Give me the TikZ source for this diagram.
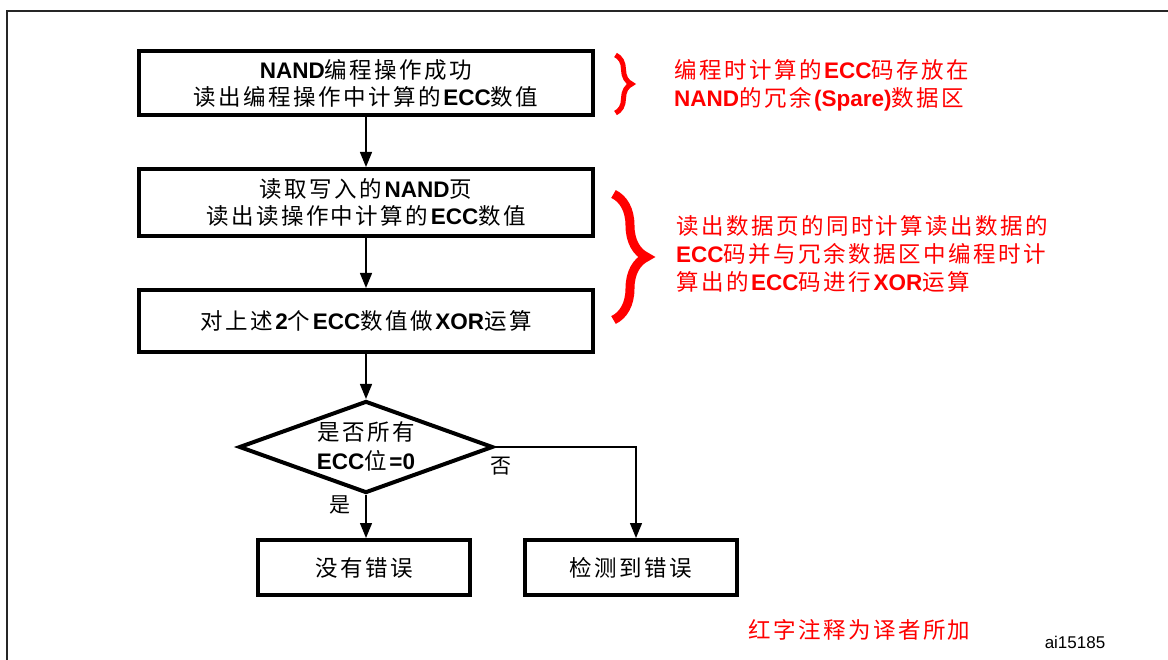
\documentclass[tikz,border=0pt]{standalone}
\usepackage{fontspec}
\setmainfont{Liberation Sans}
\newfontfamily\cjk[LetterSpace=11]{Noto Sans CJK SC}
\newcommand\zh[1]{{\cjk #1}}
\usetikzlibrary{arrows.meta,shapes.geometric,decorations.pathreplacing}
\tikzset{
  stepbox/.style={draw, line width=4pt, minimum width=454pt, inner sep=0pt, align=center,
    font=\fontsize{22.5}{27}\selectfont},
  endbox/.style={draw, line width=4pt, minimum width=212pt, minimum height=55pt, inner sep=0pt,
    font=\fontsize{22.5}{27}\selectfont},
  decision/.style={draw, diamond, line width=4pt, minimum width=254pt, minimum height=92pt, inner sep=0pt},
  arr/.style={line width=1.3pt, -{Triangle[length=15pt,width=12pt]}},
  note/.style={text=red, anchor=west, align=left, inner sep=0pt, font=\fontsize{22.5}{28}\selectfont},
  lbl/.style={inner sep=0pt, font=\fontsize{21}{24}\selectfont},
  bracestyle/.style={red, decorate, decoration={brace, amplitude=#1}},
}
\begin{document}
\begin{tikzpicture}[x=1pt,y=-1pt]
\useasboundingbox (0,0) rectangle (1168,660);
% outer frame (top and left edges)
\draw[line width=2pt, black!85] (7,660) -- (7,11) -- (1168,11);

\node[stepbox, minimum height=64pt] (b1) at (366,83)
  {\textbf{NAND}\zh{编程操作成功}\\\zh{读出编程操作中计算的}\textbf{ECC}\zh{数值}};
\node[stepbox, minimum height=67pt] (b2) at (366,202.5)
  {\zh{读取写入的}\textbf{NAND}\zh{页}\\\zh{读出读操作中计算的}\textbf{ECC}\zh{数值}};
\node[stepbox, minimum height=62pt] (b3) at (366,321)
  {\zh{对上述}\textbf{2}\zh{个}\textbf{ECC}\zh{数值做}\textbf{XOR}\zh{运算}};
\node[decision] (d) at (366,447) {};
\node[align=center, inner sep=0pt, font=\fontsize{22.5}{29}\selectfont] (dt) at (366,446)
  {\zh{是否所有}\\\textbf{ECC}\zh{位}\textbf{=0}};
\node[endbox] (b4) at (364,567.5) {\zh{没有错误}};
\node[endbox] (b5) at (631,567.5) {\zh{检测到错误}};

\draw[arr] (b1) -- (b2);
\draw[arr] (b2) -- (b3);
\draw[arr] (b3) -- (d);
\draw[arr] (d.south) -- (d.south |- b4.north);
\draw[arr] (d.east) -| (636,0 |- b5.north);

\node[lbl] (no) at (501,466) {\zh{否}};
\node[lbl] (yes) at (340,505) {\zh{是}};

% annotations
\draw[bracestyle=16, line width=5pt] (615.5,55) -- (615.5,113);
\draw[bracestyle=33, line width=9pt] (613.5,194) -- (613.5,320);
\node[note] (n1) at (674,85)
  {\zh{编程时计算的}\textbf{ECC}\zh{码存放在}\\\textbf{NAND}\zh{的冗余}\textbf{(Spare)}\zh{数据区}};
\node[note] (n2) at (676,254)
  {\zh{读出数据页的同时计算读出数据的}\\\textbf{ECC}\zh{码并与冗余数据区中编程时计}\\\zh{算出的}\textbf{ECC}\zh{码进行}\textbf{XOR}\zh{运算}};
\node[note] (n3) at (748,630) {\zh{红字注释为译者所加}};
\node[inner sep=0pt, font=\fontsize{17}{20}\selectfont] (id) at (1075,642) {ai15185};
\end{tikzpicture}
\end{document}
